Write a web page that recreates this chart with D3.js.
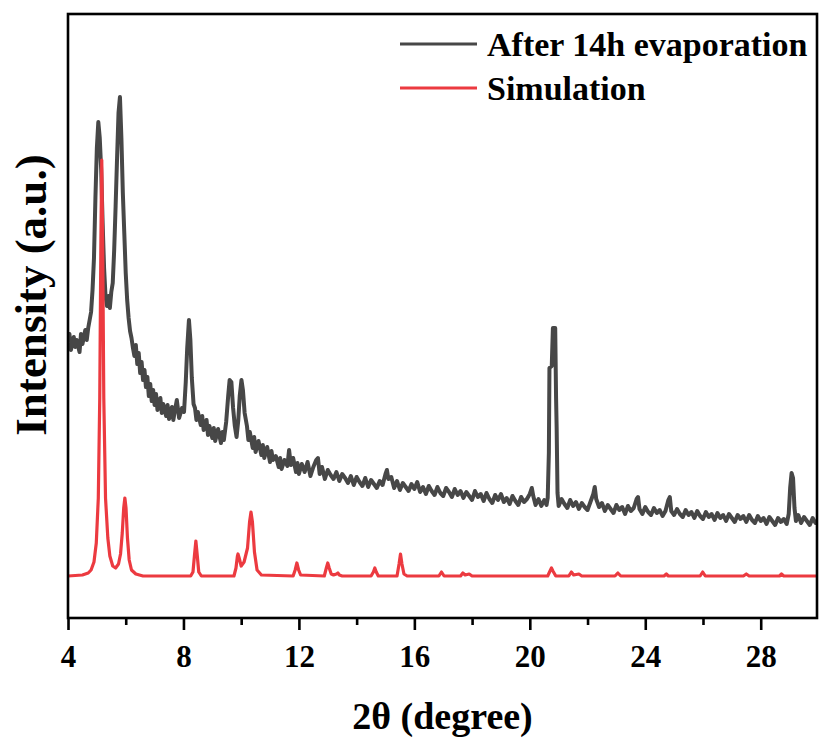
<!DOCTYPE html>
<html>
<head>
<meta charset="utf-8">
<script src="https://cdn.jsdelivr.net/npm/d3@7"></script>
<style>
  body { margin: 0; background: #fff; }
  svg { display: block; }
  text { font-family: "Liberation Serif", "Times New Roman", serif; font-weight: bold; fill: #000; }
</style>
</head>
<body>
<svg></svg>
<script>
const width = 819;
const height = 740;

// 2theta ticks
const majorTicks = [4, 8, 12, 16, 20, 24, 28];
const minorTicks = [6, 10, 14, 18, 22, 26];

const afterEvap = [
  [4.0, 276], [4.05, 284], [4.1, 268], [4.2, 281], [4.25, 271], [4.3, 278], [4.4, 266], [4.45, 284],
  [4.5, 274], [4.6, 288], [4.65, 278], [4.7, 290], [4.75, 298], [4.8, 306], [4.85, 328], [4.9, 360],
  [4.95, 420], [5.0, 470], [5.05, 496], [5.1, 480], [5.15, 448], [5.2, 395], [5.25, 350], [5.3, 322],
  [5.35, 312], [5.4, 322], [5.45, 310], [5.5, 326], [5.55, 335], [5.6, 368], [5.65, 412], [5.7, 460],
  [5.75, 505], [5.8, 521], [5.85, 480], [5.9, 425], [5.95, 385], [6.0, 345], [6.05, 318], [6.1, 300],
  [6.15, 287], [6.2, 280], [6.25, 270], [6.3, 262], [6.35, 273], [6.4, 254], [6.45, 265], [6.5, 245],
  [6.55, 256], [6.6, 238], [6.65, 248], [6.7, 231], [6.75, 241], [6.8, 222], [6.85, 234], [6.9, 217],
  [6.95, 228], [7.0, 213], [7.05, 224], [7.1, 208], [7.2, 220], [7.25, 205], [7.3, 214], [7.4, 202],
  [7.45, 213], [7.5, 199], [7.6, 211], [7.65, 198], [7.7, 207], [7.77, 218], [7.85, 200], [7.95, 210],
  [8.02, 206], [8.08, 236], [8.13, 270], [8.19, 298], [8.24, 278], [8.29, 240], [8.35, 214], [8.4, 210],
  [8.45, 198], [8.5, 206], [8.6, 193], [8.65, 202], [8.7, 188], [8.8, 198], [8.85, 183], [8.9, 192],
  [9.0, 180], [9.05, 190], [9.1, 177], [9.2, 189], [9.3, 175], [9.35, 186], [9.4, 178], [9.48, 196],
  [9.55, 222], [9.6, 238], [9.66, 236], [9.72, 210], [9.78, 192], [9.84, 181], [9.9, 198], [9.95, 222],
  [10.01, 238], [10.06, 228], [10.12, 205], [10.2, 192], [10.25, 178], [10.3, 186], [10.4, 170], [10.45, 181],
  [10.5, 166], [10.6, 177], [10.7, 163], [10.75, 173], [10.8, 160], [10.9, 171], [11.0, 156], [11.05, 167],
  [11.1, 158], [11.2, 162], [11.3, 151], [11.35, 160], [11.4, 149], [11.5, 158], [11.6, 152], [11.66, 168],
  [11.72, 153], [11.8, 160], [11.9, 146], [11.95, 155], [12.0, 144], [12.1, 154], [12.2, 146], [12.3, 156],
  [12.4, 142], [12.5, 151], [12.6, 158], [12.66, 160], [12.72, 144], [12.8, 151], [12.9, 139], [13.0, 148],
  [13.1, 143], [13.2, 139], [13.3, 146], [13.4, 137], [13.5, 144], [13.6, 140], [13.7, 135], [13.8, 142],
  [13.9, 133], [14.0, 141], [14.1, 136], [14.2, 132], [14.3, 140], [14.4, 131], [14.5, 138], [14.6, 134],
  [14.7, 130], [14.8, 137], [14.9, 133], [15.0, 144], [15.05, 148], [15.1, 139], [15.2, 141], [15.3, 130],
  [15.4, 137], [15.5, 128], [15.6, 135], [15.7, 131], [15.8, 127], [15.9, 134], [16.0, 129], [16.1, 136],
  [16.2, 126], [16.3, 131], [16.4, 124], [16.5, 132], [16.6, 127], [16.7, 123], [16.8, 131], [16.9, 125],
  [17.0, 122], [17.1, 130], [17.2, 126], [17.3, 121], [17.4, 129], [17.5, 123], [17.6, 127], [17.7, 120],
  [17.8, 126], [17.9, 122], [18.0, 118], [18.1, 127], [18.2, 121], [18.3, 124], [18.4, 117], [18.5, 125],
  [18.6, 119], [18.7, 115], [18.8, 123], [18.9, 118], [19.0, 124], [19.1, 116], [19.2, 120], [19.3, 114],
  [19.4, 122], [19.5, 117], [19.6, 113], [19.7, 121], [19.8, 116], [19.9, 119], [20.0, 124], [20.07, 130],
  [20.12, 122], [20.2, 113], [20.3, 119], [20.4, 112], [20.5, 118], [20.58, 113], [20.62, 120], [20.66, 165],
  [20.68, 250], [20.76, 252], [20.8, 290], [20.88, 290], [20.91, 220], [20.93, 190], [20.96, 125], [21.0, 112],
  [21.1, 119], [21.2, 114], [21.3, 110], [21.4, 118], [21.5, 112], [21.6, 116], [21.7, 109], [21.8, 115],
  [21.9, 111], [22.0, 108], [22.1, 116], [22.2, 124], [22.25, 131], [22.3, 119], [22.4, 111], [22.5, 115],
  [22.6, 107], [22.7, 113], [22.8, 109], [22.9, 105], [23.0, 113], [23.1, 108], [23.2, 111], [23.3, 104],
  [23.4, 112], [23.5, 107], [23.6, 110], [23.7, 119], [23.75, 121], [23.8, 109], [23.9, 104], [24.0, 111],
  [24.1, 106], [24.2, 103], [24.3, 110], [24.4, 105], [24.5, 108], [24.6, 102], [24.7, 107], [24.8, 118],
  [24.85, 121], [24.9, 107], [25.0, 103], [25.1, 109], [25.2, 104], [25.3, 101], [25.4, 108], [25.5, 103],
  [25.6, 106], [25.7, 100], [25.8, 107], [25.9, 102], [26.0, 99], [26.1, 106], [26.2, 101], [26.3, 104],
  [26.4, 98], [26.5, 105], [26.6, 100], [26.7, 103], [26.8, 97], [26.9, 104], [27.0, 100], [27.1, 96],
  [27.2, 103], [27.3, 99], [27.4, 102], [27.5, 96], [27.6, 103], [27.7, 98], [27.8, 95], [27.9, 102],
  [28.0, 97], [28.1, 100], [28.2, 94], [28.3, 101], [28.4, 97], [28.5, 93], [28.6, 100], [28.7, 96],
  [28.8, 99], [28.9, 94], [28.97, 104], [29.02, 130], [29.07, 145], [29.12, 140], [29.17, 110], [29.22, 97],
  [29.3, 103], [29.4, 95], [29.5, 101], [29.6, 97], [29.7, 93], [29.8, 100], [29.9, 95], [30.0, 98]
];

// simulated pattern (2theta, intensity a.u.)
const simulation = [
  [4.0, 42], [4.5, 43], [4.7, 45], [4.8, 48], [4.9, 56], [4.98, 75], [5.05, 120], [5.1, 220],
  [5.14, 380], [5.17, 458], [5.2, 380], [5.24, 220], [5.3, 120], [5.38, 80], [5.45, 62], [5.55, 52],
  [5.65, 50], [5.75, 54], [5.82, 64], [5.88, 85], [5.93, 110], [5.97, 120], [6.01, 110], [6.06, 80],
  [6.12, 58], [6.2, 48], [6.35, 44], [6.6, 42], [8.25, 42], [8.33, 46], [8.38, 62], [8.43, 77],
  [8.48, 62], [8.53, 46], [8.62, 42], [9.75, 42], [9.82, 50], [9.87, 62], [9.89, 64], [9.93, 60],
  [10.0, 52], [10.1, 56], [10.22, 70], [10.29, 96], [10.34, 106], [10.39, 96], [10.46, 66], [10.55, 48],
  [10.7, 43], [11.8, 42], [11.87, 48], [11.93, 55], [11.99, 48], [12.06, 43], [12.88, 42], [12.95, 50],
  [13.0, 55], [13.05, 50], [13.12, 44], [13.2, 43], [13.3, 44], [13.35, 45], [13.4, 43], [13.5, 42],
  [14.5, 42], [14.58, 46], [14.63, 50], [14.68, 46], [14.75, 42], [15.4, 42], [15.47, 54], [15.52, 64],
  [15.57, 54], [15.64, 44], [15.75, 42], [16.85, 42], [16.94, 46], [17.03, 42], [17.6, 42], [17.68, 45],
  [17.76, 43], [17.9, 44], [18.0, 42], [20.62, 42], [20.7, 47], [20.75, 50], [20.8, 47], [20.9, 42],
  [21.35, 42], [21.44, 46], [21.52, 43], [21.7, 44], [21.8, 42], [22.95, 42], [23.05, 45], [23.15, 42],
  [24.65, 42], [24.73, 44], [24.8, 42], [25.9, 42], [25.99, 46], [26.08, 42], [27.4, 42], [27.5, 44],
  [27.6, 42], [28.65, 42], [28.72, 44], [28.8, 42], [30.0, 42]
];

const seriesNames = ["After 14h evaporation", "Simulation"];
const seriesColors = ["#474747", "#ec3a40"];

const svg = d3.select("svg")
  .attr("width", width)
  .attr("height", height);

const plot = { left: 68, right: 817, top: 14, bottom: 618 };

const x = d3.scaleLinear()
  .domain([4, 29.95])
  .range([plot.left, plot.right]);

const y = d3.scaleLinear()
  .domain([0, 604])
  .range([plot.bottom, plot.top]);

svg.append("clipPath").attr("id", "clip")
  .append("rect")
  .attr("x", plot.left).attr("y", plot.top)
  .attr("width", plot.right - plot.left)
  .attr("height", plot.bottom - plot.top);

const line = d3.line()
  .x(d => x(d[0]))
  .y(d => y(d[1]));

const curves = svg.append("g").attr("clip-path", "url(#clip)");

curves.append("path")
  .datum(afterEvap)
  .attr("d", line)
  .attr("fill", "none")
  .attr("stroke", seriesColors[0])
  .attr("stroke-width", 4)
  .attr("stroke-linejoin", "round");

curves.append("path")
  .datum(simulation)
  .attr("d", line)
  .attr("fill", "none")
  .attr("stroke", seriesColors[1])
  .attr("stroke-width", 3.2)
  .attr("stroke-linejoin", "round");

// frame
svg.append("rect")
  .attr("x", plot.left).attr("y", plot.top)
  .attr("width", plot.right - plot.left)
  .attr("height", plot.bottom - plot.top)
  .attr("fill", "none")
  .attr("stroke", "#000")
  .attr("stroke-width", 2.6);

// bottom axis, majors then minors
const xAxis = svg.append("g")
  .attr("transform", `translate(0,${plot.bottom})`)
  .call(d3.axisBottom(x).tickValues(majorTicks).tickSize(12).tickSizeOuter(0).tickPadding(15));

xAxis.select(".domain").remove();
xAxis.selectAll(".tick line").attr("stroke", "#000").attr("stroke-width", 2.6);
xAxis.selectAll(".tick text")
  .style("font-size", "31px")
  .attr("font-family", null);

svg.append("g")
  .attr("transform", `translate(0,${plot.bottom})`)
  .call(d3.axisBottom(x).tickValues(minorTicks).tickSize(7).tickFormat(""))
  .call(g => g.select(".domain").remove())
  .selectAll(".tick line").attr("stroke", "#000").attr("stroke-width", 2.6);

// axis titles
svg.append("text")
  .attr("x", (plot.left + plot.right) / 2)
  .attr("y", 729)
  .attr("text-anchor", "middle")
  .style("font-size", "38px")
  .text("2θ (degree)");

svg.append("text")
  .attr("transform", "translate(46,295) rotate(-90)")
  .attr("text-anchor", "middle")
  .style("font-size", "45px")
  .text("Intensity (a.u.)");

// legend
const legend = svg.append("g");
seriesNames.forEach((name, i) => {
  const ly = 44 + i * 44;
  legend.append("line")
    .attr("x1", 400).attr("x2", 477)
    .attr("y1", ly).attr("y2", ly)
    .attr("stroke", seriesColors[i])
    .attr("stroke-width", 3.2);
  legend.append("text")
    .attr("x", 487)
    .attr("y", ly + 12)
    .style("font-size", "34px")
    .text(name);
});
</script>
</body>
</html>
